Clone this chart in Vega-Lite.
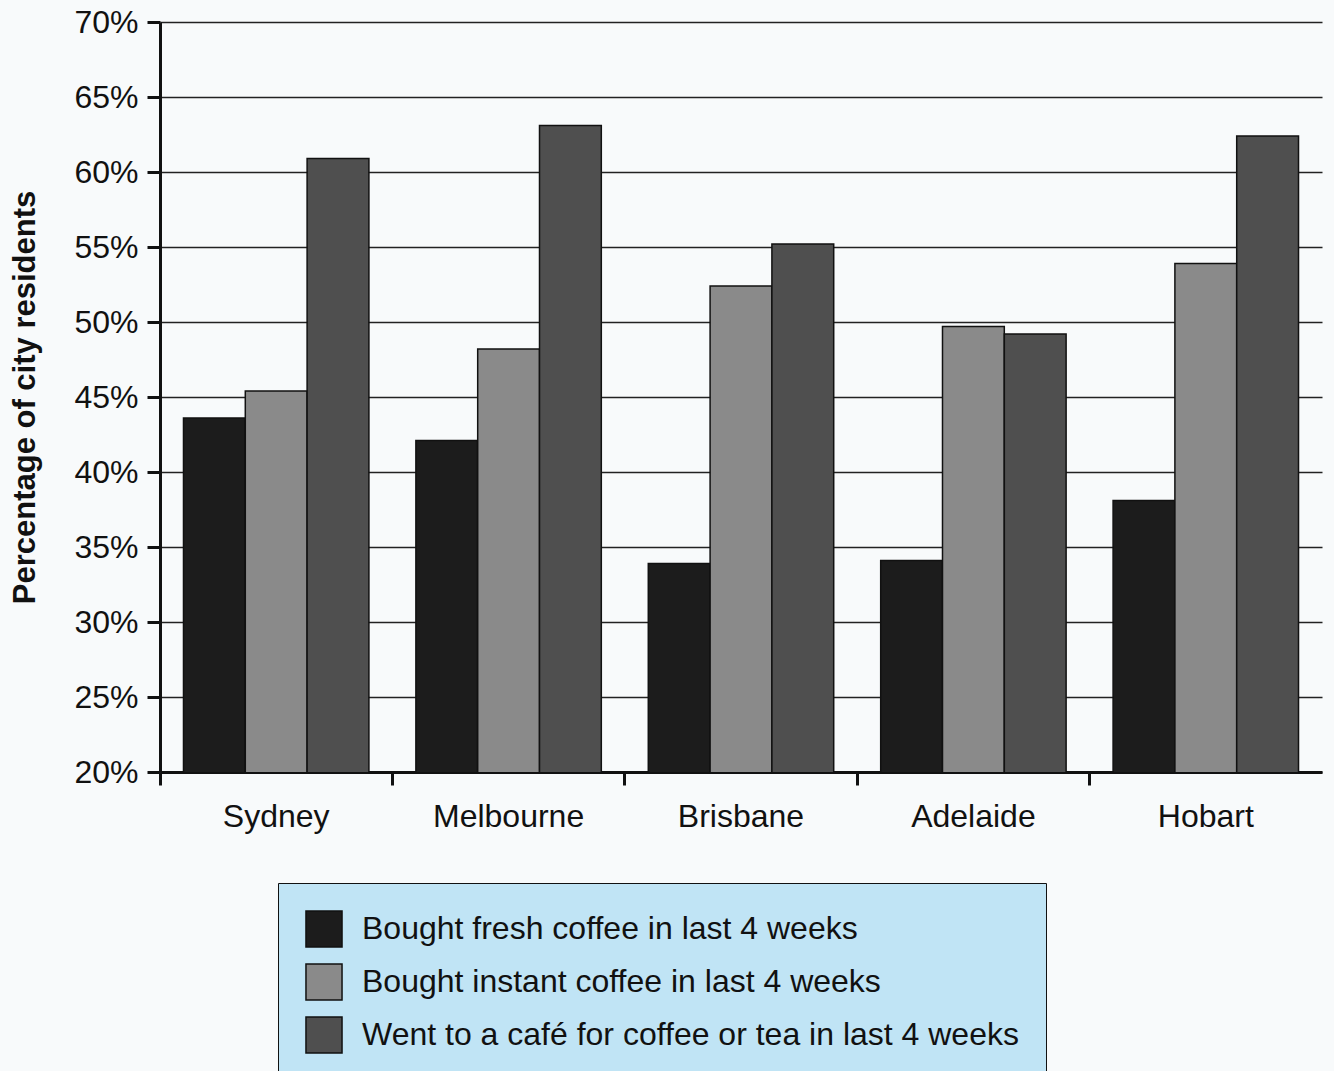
{
  "$schema": "https://vega.github.io/schema/vega-lite/v6.json",
  "autosize": "none",
  "padding": {"left": 160, "top": 22, "right": 12, "bottom": 299},
  "width": 1162,
  "height": 750,
  "background": "#f8fafb",
  "data": {
    "values": [
      {"city": "Sydney", "series": "Bought fresh coffee in last 4 weeks", "value": 43.6},
      {"city": "Sydney", "series": "Bought instant coffee in last 4 weeks", "value": 45.4},
      {"city": "Sydney", "series": "Went to a café for coffee or tea in last 4 weeks", "value": 60.9},
      {"city": "Melbourne", "series": "Bought fresh coffee in last 4 weeks", "value": 42.1},
      {"city": "Melbourne", "series": "Bought instant coffee in last 4 weeks", "value": 48.2},
      {"city": "Melbourne", "series": "Went to a café for coffee or tea in last 4 weeks", "value": 63.1},
      {"city": "Brisbane", "series": "Bought fresh coffee in last 4 weeks", "value": 33.9},
      {"city": "Brisbane", "series": "Bought instant coffee in last 4 weeks", "value": 52.4},
      {"city": "Brisbane", "series": "Went to a café for coffee or tea in last 4 weeks", "value": 55.2},
      {"city": "Adelaide", "series": "Bought fresh coffee in last 4 weeks", "value": 34.1},
      {"city": "Adelaide", "series": "Bought instant coffee in last 4 weeks", "value": 49.7},
      {"city": "Adelaide", "series": "Went to a café for coffee or tea in last 4 weeks", "value": 49.2},
      {"city": "Hobart", "series": "Bought fresh coffee in last 4 weeks", "value": 38.1},
      {"city": "Hobart", "series": "Bought instant coffee in last 4 weeks", "value": 53.9},
      {"city": "Hobart", "series": "Went to a café for coffee or tea in last 4 weeks", "value": 62.4}
    ]
  },
  "mark": {"type": "bar", "stroke": "#111111", "strokeWidth": 1.5, "clip": true},
  "encoding": {
    "x": {
      "field": "city",
      "type": "nominal",
      "sort": null,
      "scale": {"paddingInner": 0, "paddingOuter": 0},
      "axis": {
        "title": null,
        "labelAngle": 0,
        "bandPosition": 0,
        "labelFont": "Liberation Sans",
        "labelFontSize": 32,
        "labelColor": "#111111",
        "labelPadding": 16,
        "tickSize": 13,
        "tickWidth": 3,
        "tickColor": "#111111",
        "domainColor": "#111111",
        "domainWidth": 3,
        "grid": false
      }
    },
    "xOffset": {
      "field": "series",
      "type": "nominal",
      "sort": ["Bought fresh coffee in last 4 weeks", "Bought instant coffee in last 4 weeks", "Went to a café for coffee or tea in last 4 weeks"],
      "scale": {"paddingInner": 0, "paddingOuter": 0.38}
    },
    "y": {
      "field": "value",
      "type": "quantitative",
      "scale": {"domain": [20, 70], "nice": false, "zero": false},
      "axis": {
        "title": "Percentage of city residents",
        "titleFont": "Liberation Sans",
        "titleFontSize": 31,
        "titleFontWeight": "bold",
        "titleColor": "#111111",
        "titlePadding": 32,
        "values": [20, 25, 30, 35, 40, 45, 50, 55, 60, 65, 70],
        "labelExpr": "datum.value + '%'",
        "labelFont": "Liberation Sans",
        "labelFontSize": 32,
        "labelColor": "#111111",
        "labelPadding": 9,
        "tickSize": 13,
        "tickWidth": 3,
        "tickColor": "#111111",
        "domainColor": "#111111",
        "domainWidth": 3,
        "grid": true,
        "gridColor": "#222222",
        "gridWidth": 1.5,
        "gridOpacity": 1
      }
    },
    "color": {
      "field": "series",
      "type": "nominal",
      "sort": ["Bought fresh coffee in last 4 weeks", "Bought instant coffee in last 4 weeks", "Went to a café for coffee or tea in last 4 weeks"],
      "scale": {"range": ["#1c1c1c", "#8a8a8a", "#4f4f4f"]},
      "legend": {
        "title": null,
        "orient": "none",
        "legendX": 118,
        "legendY": 861,
        "direction": "vertical",
        "symbolType": "square",
        "symbolSize": 1300,
        "symbolStrokeColor": "#111111",
        "symbolStrokeWidth": 1.5,
        "symbolOpacity": 1,
        "labelFont": "Liberation Sans",
        "labelFontSize": 32,
        "labelColor": "#111111",
        "labelOffset": 19,
        "labelLimit": 1000,
        "rowPadding": 9
      }
    }
  },
  "config": {
    "view": {"stroke": null},
    "legend": {"fillColor": "#c0e4f5", "strokeColor": "#111111", "padding": 27}
  }
}
